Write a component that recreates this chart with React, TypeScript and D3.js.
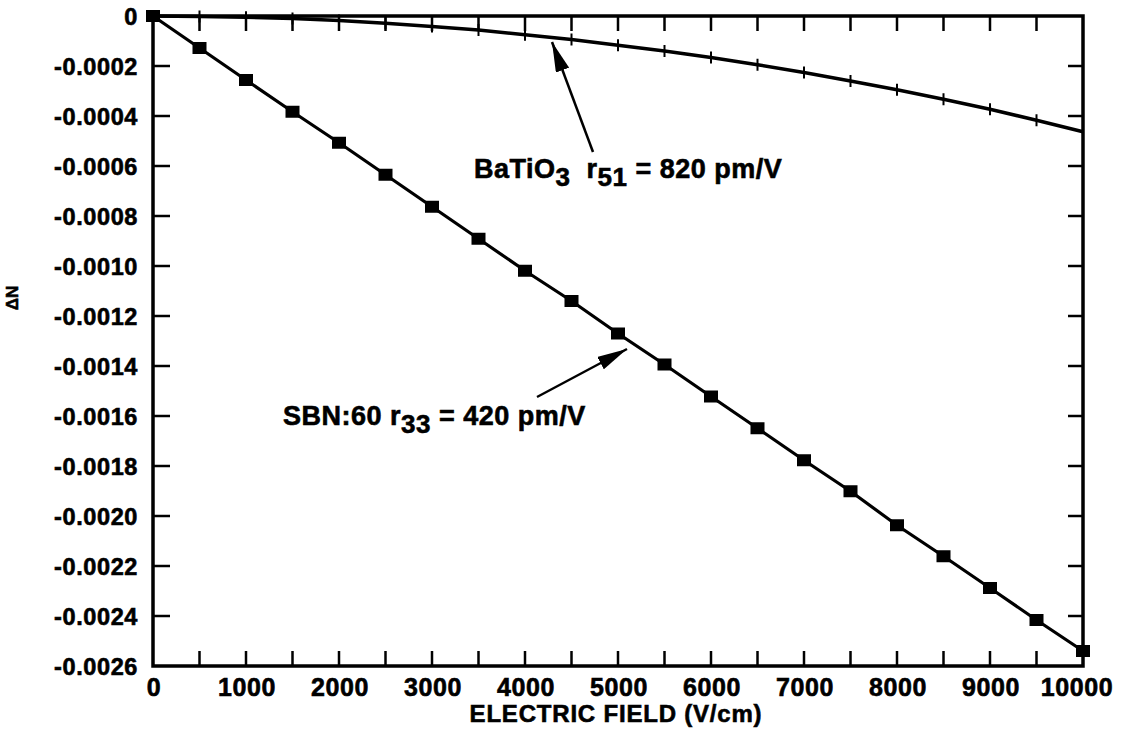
import React, { useEffect, useRef } from 'react';
import * as d3 from 'd3';

// electric field (V/cm)
const field = [0, 500, 1000, 1500, 2000, 2500, 3000, 3500, 4000, 4500, 5000,
  5500, 6000, 6500, 7000, 7500, 8000, 8500, 9000, 9500, 10000];

// SBN:60 delta N
const sbn = [0, -0.000128, -0.000256, -0.000383, -0.000507, -0.000635, -0.000763,
  -0.000891, -0.001019, -0.001140, -0.001270, -0.001394, -0.001522, -0.001649,
  -0.001777, -0.001901, -0.002037, -0.002161, -0.002288, -0.002416, -0.002540];

// BaTiO3 delta N
const batio = [0, -0.000002, -0.000005, -0.00001, -0.000018, -0.000029, -0.000042,
  -0.000056, -0.000075, -0.000094, -0.000117, -0.00014, -0.000166, -0.000195,
  -0.000226, -0.00026, -0.000295, -0.000333, -0.000373, -0.000417, -0.000463];

const xLabels = [0, 1000, 2000, 3000, 4000, 5000, 6000, 7000, 8000, 9000, 10000];
const xMinor = [500, 1500, 2500, 3500, 4500, 5500, 6500, 7500, 8500, 9500];
const yTicks = [0, -0.0002, -0.0004, -0.0006, -0.0008, -0.001, -0.0012, -0.0014,
  -0.0016, -0.0018, -0.002, -0.0022, -0.0024, -0.0026];

const W = 1127;
const H = 736;
const FONT = '"Liberation Sans", Arial, sans-serif';

export default function App() {
  const ref = useRef<SVGSVGElement>(null);

  useEffect(() => {
    const svg = d3.select(ref.current);
    svg.selectAll('*').remove();

    const x = d3.scaleLinear().domain([0, 10000]).range([153, 1083]);
    const y = d3.scaleLinear().domain([0, -0.0026]).range([16, 666]);
    const [x0, x1] = x.range();
    const [y0, y1] = y.range();

    //arrow head
    svg.append('defs').append('marker')
      .attr('id', 'head')
      .attr('viewBox', '0 0 10 10')
      .attr('refX', 10).attr('refY', 5)
      .attr('markerWidth', 30).attr('markerHeight', 14)
      .attr('markerUnits', 'userSpaceOnUse')
      .attr('preserveAspectRatio', 'none')
      .attr('orient', 'auto')
      .append('path').attr('d', 'M0,0 L10,5 L0,10 z').attr('fill', '#000');

    // frame
    svg.append('rect')
      .attr('x', x0).attr('y', y0)
      .attr('width', x1 - x0).attr('height', y1 - y0)
      .attr('fill', 'none').attr('stroke', '#000').attr('stroke-width', 3.5);

    const ticks = svg.append('g').attr('stroke', '#000').attr('stroke-width', 2.5);
    const allX = [...xLabels, ...xMinor].filter(v => v > 0 && v < 10000);
    allX.forEach(v => {
      ticks.append('line').attr('x1', x(v)).attr('x2', x(v)).attr('y1', y1).attr('y2', y1 - 15);
      ticks.append('line').attr('x1', x(v)).attr('x2', x(v)).attr('y1', y0).attr('y2', y0 + 15);
    });
    yTicks.filter(v => v < 0 && v > -0.0026).forEach(v => {
      ticks.append('line').attr('x1', x0).attr('x2', x0 + 17).attr('y1', y(v)).attr('y2', y(v));
      ticks.append('line').attr('x1', x1).attr('x2', x1 - 15).attr('y1', y(v)).attr('y2', y(v));
    });

    const bold = (sel: any, size: number) => sel
      .attr('font-family', FONT).attr('font-weight', 'bold')
      .attr('font-size', size)
      .attr('stroke', '#000').attr('stroke-width', 0.6);

    // tick labels
    bold(svg.append('g')
      .selectAll('text')
      .data(yTicks)
      .enter().append('text')
      .attr('x', 138)
      .attr('y', d => y(d) + 8.5)
      .attr('text-anchor', 'end')
      .attr('letter-spacing', 0.6)
      .text(d => d === 0 ? '0' : d3.format('.4f')(d).replace('−', '-')), 23.5);

    bold(svg.append('g')
      .selectAll('text')
      .data(xLabels)
      .enter().append('text')
      .attr('x', d => x(d) + (d === 10000 ? -6 : 1))
      .attr('y', 696)
      .attr('text-anchor', 'middle')
      .attr('letter-spacing', 0.6)
      .text(d => String(d)), 25);

    // axis titles
    bold(svg.append('text')
      .attr('x', 616).attr('y', 722)
      .attr('text-anchor', 'middle')
      .attr('letter-spacing', 0.8)
      .text('ELECTRIC FIELD (V/cm)'), 24);

    bold(svg.append('text')
      .attr('transform', 'translate(18,298) rotate(-90)')
      .attr('text-anchor', 'middle')
      .text('ΔN'), 17);

    // lines
    const sbnPts = field.map((f, i) => [f, sbn[i]] as [number, number]);
    const batPts = field.map((f, i) => [f, batio[i]] as [number, number]);
    const line = d3.line<[number, number]>().x(d => x(d[0])).y(d => y(d[1]));

    svg.append('path').attr('d', line(batPts))
      .attr('fill', 'none').attr('stroke', '#000').attr('stroke-width', 3.5);
    svg.append('g').selectAll('line').data(batPts).enter().append('line')
      .attr('x1', d => x(d[0])).attr('x2', d => x(d[0]))
      .attr('y1', d => y(d[1]) - 6).attr('y2', d => y(d[1]) + 6)
      .attr('stroke', '#000').attr('stroke-width', 2);

    svg.append('path').attr('d', line(sbnPts))
      .attr('fill', 'none').attr('stroke', '#000').attr('stroke-width', 3.2);
    svg.append('g').selectAll('rect').data(sbnPts).enter().append('rect')
      .attr('x', d => x(d[0]) - 7).attr('y', d => y(d[1]) - 6)
      .attr('width', 14).attr('height', 12)
      .attr('fill', '#000');

    // annotations
    const ann = (tx: number, ty: number, parts: [string, boolean][]) => {
      const t = bold(svg.append('text')
        .attr('x', tx).attr('y', ty)
        .attr('letter-spacing', 0.5)
        .attr('xml:space', 'preserve'), 27);
      let low = false;
      parts.forEach(([s, sub]) => {
        const dy = sub === low ? 0 : (sub ? 8 : -8);
        low = sub;
        t.append('tspan').attr('dy', dy).attr('font-size', sub ? 26 : 27).text(s);
      });
    };
    ann(474, 178, [['BaTiO', false], ['3', true], ['  r', false], ['51', true], [' = 820 pm/V', false]]);
    ann(283, 425, [['SBN:60 r', false], ['33', true], [' = 420 pm/V', false]]);

    svg.append('line')
      .attr('x1', 593).attr('y1', 152).attr('x2', 552).attr('y2', 42)
      .attr('stroke', '#000').attr('stroke-width', 2.5)
      .attr('marker-end', 'url(#head)');

    svg.append('line')
      .attr('x1', 537).attr('y1', 397).attr('x2', 627).attr('y2', 349)
      .attr('stroke', '#000').attr('stroke-width', 2.5)
      .attr('marker-end', 'url(#head)');
  }, []);

  return <svg ref={ref} width={W} height={H} style={{ position: 'absolute', left: 0, top: 0, background: '#fff' }} />;
}
